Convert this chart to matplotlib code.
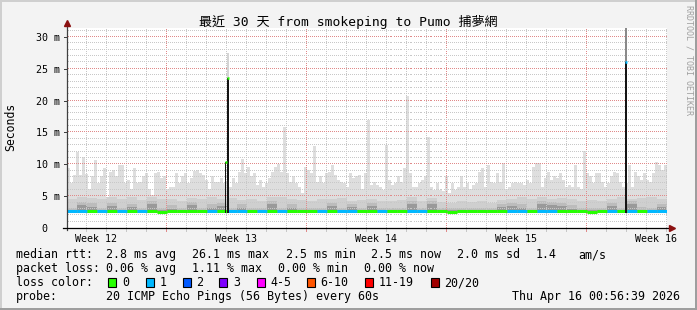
import matplotlib
matplotlib.use("Agg")
import matplotlib.pyplot as plt
from matplotlib.patches import Rectangle
from matplotlib.transforms import blended_transform_factory
import numpy as np

W, H = 697, 310
MONO = "DejaVu Sans Mono"
TITLE_FONTS = ["DejaVu Sans Mono", "Noto Sans CJK TC"]

# ---- data, milliseconds. 30 days; smoke max in 0.15 day bins, the rest in half days
smoke_max = [
    9.4, 7.0, 8.3, 12.0, 8.3, 11.2, 8.4, 6.2, 8.1, 10.7,
    7.0, 8.1, 9.4, 4.9, 8.8, 9.1, 8.1, 9.9, 9.9, 7.0,
    7.5, 6.2, 9.4, 7.0, 7.3, 8.1, 8.6, 6.2, 5.2, 8.6,
    8.8, 7.8, 8.1, 6.2, 6.5, 6.5, 8.6, 7.0, 8.1, 8.6,
    7.0, 7.8, 8.9, 9.1, 8.6, 8.3, 7.5, 6.2, 8.1, 7.3,
    7.3, 7.8, 7.0, 7.0, 6.5, 7.8, 7.0, 8.8, 10.9, 8.6,
    9.6, 8.1, 8.6, 6.8, 7.5, 6.5, 7.0, 7.8, 8.8, 9.6,
    10.0, 8.8, 15.8, 8.6, 7.3, 8.1, 7.0, 6.5, 5.5, 9.6,
    9.1, 8.6, 12.9, 7.3, 8.1, 7.0, 8.6, 8.8, 9.9, 8.3,
    7.5, 7.3, 7.0, 6.5, 8.6, 7.8, 8.1, 8.3, 6.2, 8.6,
    17.0, 6.8, 7.3, 6.8, 6.5, 6.0, 13.0, 7.5, 6.8, 7.0,
    8.1, 7.3, 9.4, 20.7, 8.6, 6.5, 6.5, 7.0, 7.5, 8.1,
    14.3, 6.5, 6.0, 7.0, 6.0, 5.8, 8.1, 5.5, 7.0, 6.0,
    6.5, 8.1, 6.5, 7.0, 6.2, 6.8, 7.0, 8.8, 9.4, 6.5,
    9.9, 7.3, 7.0, 8.6, 7.3, 10.2, 6.2, 6.5, 7.0, 7.3,
    7.0, 7.0, 6.8, 7.5, 7.0, 9.5, 10.2, 10.2, 6.5, 7.8,
    8.8, 7.5, 8.1, 7.8, 8.6, 7.5, 6.5, 6.8, 6.5, 9.9,
    6.5, 6.2, 12.1, 8.6, 8.1, 7.0, 8.6, 8.6, 7.3, 6.5,
    7.0, 8.1, 8.8, 8.6, 7.3, 6.5, 7.0, 9.9, 6.5, 8.8,
    8.1, 7.5, 8.6, 7.5, 7.3, 8.6, 10.4, 9.9, 9.1, 9.9,
]
smoke_min = 2.4
smoke_mid = [
    4.6, 4.9, 4.7, 4.5, 4.8, 4.6, 4.9, 4.4, 4.8, 4.5, 4.6, 4.3, 4.7, 4.5, 4.8,
    4.5, 4.7, 4.4, 4.6, 4.3, 4.8, 4.9, 4.5, 4.4, 4.2, 4.5, 4.6, 4.7, 4.3, 4.4,
    4.6, 4.3, 4.2, 4.4, 4.8, 4.2, 4.7, 4.1, 4.0, 4.2, 4.1, 4.3, 4.0, 4.4, 4.6,
    4.8, 4.5, 4.9, 4.6, 4.7, 4.5, 4.3, 4.4, 4.2, 4.6, 4.8, 4.5, 4.7, 4.9, 4.6,
]
smoke_dark = [
    3.2, 4.1, 3.9, 3.1, 4.0, 3.2, 3.8, 3.2, 4.2, 3.1, 3.6, 3.1, 4.1, 3.2, 3.8,
    4.0, 3.2, 3.7, 3.1, 3.1, 4.3, 3.2, 3.7, 3.1, 3.1, 3.2, 4.0, 3.1, 3.8, 3.2,
    3.9, 3.2, 3.1, 3.2, 4.2, 3.2, 4.3, 3.1, 3.1, 3.2, 3.1, 3.2, 3.2, 3.8, 4.0,
    3.7, 3.2, 4.2, 4.1, 3.9, 3.6, 3.1, 3.2, 3.2, 4.0, 3.2, 4.2, 3.3, 3.2, 3.8,
]
smoke_core = [
    2.8, 3.6, 3.3, 2.8, 3.5, 2.8, 3.3, 2.8, 3.7, 2.8, 3.0, 2.8, 3.6, 2.8, 3.2,
    3.5, 2.8, 3.1, 2.8, 2.8, 3.8, 2.8, 3.2, 2.8, 2.8, 2.8, 3.5, 2.8, 3.3, 2.8,
    3.4, 2.8, 2.8, 2.8, 3.7, 2.8, 3.8, 2.8, 2.8, 2.8, 2.8, 2.8, 2.8, 3.3, 3.5,
    3.1, 2.8, 3.7, 3.6, 3.4, 3.0, 2.8, 2.8, 2.8, 3.5, 2.8, 3.7, 2.8, 2.8, 3.3,
]
median = [
    2.65, 2.65, 2.6, 2.65, 2.6, 2.65, 2.6, 2.65, 2.6, 2.55, 2.6, 2.6, 2.6, 2.6, 2.65,
    2.6, 2.65, 2.65, 2.6, 2.65, 2.6, 2.65, 2.6, 2.6, 2.6, 2.65, 2.6, 2.65, 2.65, 2.6,
    2.6, 2.65, 2.6, 2.6, 2.65, 2.65, 2.6, 2.6, 2.55, 2.6, 2.6, 2.6, 2.6, 2.6, 2.65,
    2.65, 2.6, 2.65, 2.65, 2.6, 2.6, 2.6, 2.55, 2.6, 2.65, 2.6, 2.65, 2.6, 2.65, 2.65,
]
loss = [
    1, 1, 0, 1, 0, 1, 0, 1, 0, 0, 0, 0, 0, 0, 1,
    0, 1, 1, 0, 1, 0, 1, 0, 0, 0, 1, 0, 1, 1, 0,
    0, 1, 0, 0, 1, 1, 0, 0, 0, 0, 0, 0, 0, 0, 1,
    1, 0, 1, 1, 0, 0, 0, 0, 0, 1, 0, 1, 0, 1, 1,
]
spike_day = [7.94, 8.045, 27.95]
spike_median = [10.4, 23.5, 26.1]
spike_top = [10.4, 27.4, 33.0]
spike_loss = [0, 0, 1]

loss_labels = ["0", "1", "2", "3", "4-5", "6-10", "11-19", "20/20"]
loss_colors = ["#26ff00", "#00b8ff", "#0059ff", "#7e00ff",
               "#ff00ff", "#ff5500", "#ff0000", "#a10000"]

y_ticks = [0, 5, 10, 15, 20, 25, 30]
y_labels = ["0  ", "5 m", "10 m", "15 m", "20 m", "25 m", "30 m"]
week_days = [1.44, 8.44, 15.44, 22.44, 29.44]
week_labels = ["Week 12", "Week 13", "Week 14", "Week 15", "Week 16"]

title = "最近 30 天 from smokeping to Pumo 捕夢網"
rtt_stats = [(15.5, "median rtt:"), (106, "2.8 ms avg"), (192, "26.1 ms max"),
             (285.5, "2.5 ms min"), (371, "2.5 ms now"), (457, "2.0 ms sd"),
             (535.5, "1.4"), (578.5, "am/s")]
loss_stats = [(15.5, "packet loss:"), (106, "0.06 % avg"), (192, "1.11 % max"),
              (278, "0.00 % min"), (364.5, "0.00 % now")]
probe_text = "20 ICMP Echo Pings (56 Bytes) every 60s"
stamp = "Thu Apr 16 00:56:39 2026"


def fx(x):
    return x / W


def fy(y):
    return 1 - y / H


fig = plt.figure(figsize=(W / 100, H / 100), dpi=100)
fig.patch.set_facecolor("#f3f3f3")

# shaded frame
fig.add_artist(Rectangle((0, 1 - 2 / H), 1, 2 / H, transform=fig.transFigure, color="#cfcfcf", lw=0))
fig.add_artist(Rectangle((0, 0), 2 / W, 1, transform=fig.transFigure, color="#cfcfcf", lw=0))
fig.add_artist(Rectangle((0, 0), 1, 2 / H, transform=fig.transFigure, color="#9e9e9e", lw=0))
fig.add_artist(Rectangle((1 - 2 / W, 0), 2 / W, 1, transform=fig.transFigure, color="#9e9e9e", lw=0))

ax = fig.add_axes([fx(67), fy(228), 600 / W, 200 / H])
ax.set_facecolor("white")
ax.set_xlim(0, 30)
ax.set_ylim(0, 31.4)
for s in ax.spines.values():
    s.set_visible(False)
ax.set_xticks([])
ax.set_yticks([])

# smoke
edges = np.arange(len(smoke_max) + 1) * 0.15
half = np.arange(len(smoke_mid) + 1) * 0.5
ax.stairs(smoke_max, edges, baseline=smoke_min, fill=True, color="#dedede", lw=0, zorder=1)
ax.stairs(smoke_mid, half, baseline=smoke_min, fill=True, color="#cfcfcf", lw=0, zorder=1.1)
ax.stairs(smoke_dark, half, baseline=smoke_min, fill=True, color="#bcbcbc", lw=0, zorder=1.2)
ax.stairs(smoke_core, half, baseline=smoke_min, fill=True, color="#9a9a9a", lw=0, zorder=1.3)

# dotted grid: single pixels every second pixel, drawn over the smoke
px_x = 30 / 600
px_y = 31.4 / 200
GRID = "#c8c8c8"
MGRID = "#e08a8a"
ys = np.arange(0.5 * px_y, 31.4, 2 * px_y)
xs = np.arange(0.5 * px_x, 30, 2 * px_x)
for d in np.arange(0.95, 30, 1.0):
    major = abs(((d - 4.95) / 7) - round((d - 4.95) / 7)) < 1e-6
    c = MGRID if major else GRID
    ax.plot(np.full_like(ys, d), ys, ",", color=c, zorder=2)
    ax.plot([d, d], [-0.4, 0], color=c, lw=0.72, clip_on=False, antialiased=False)
for v in range(1, 32):
    c = MGRID if v % 5 == 0 else GRID
    ax.plot(xs, np.full_like(xs, v), ",", color=c, zorder=2)

# median line coloured by loss
ax.hlines(median, half[:-1], half[1:], colors=[loss_colors[l] for l in loss], lw=2.2, zorder=4)

# spikes
sd = np.array(spike_day)
sm = np.array(spike_median)
st = np.array(spike_top)
widths = [0.05, 0.08, 0.1]
ax.bar(sd, st - sm, bottom=sm, width=widths, color=["#d4d4d4", "#d4d4d4", "#8a8a8a"], lw=0, zorder=3)
ax.bar(sd, sm - smoke_min, bottom=smoke_min, width=widths, color="#151515", lw=0, zorder=5)
ax.hlines(sm, sd - np.array(widths) / 2 - 0.02, sd + np.array(widths) / 2 + 0.02,
          colors=[loss_colors[l] for l in spike_loss], lw=1.8, zorder=6)

# axes with arrows
ax.plot([0, 0], [-0.35, 31.9], color="#404040", lw=0.9, clip_on=False, zorder=7)
ax.plot([-0.2, 30.1], [0, 0], color="#000000", lw=0.9, clip_on=False, zorder=7)
ax.plot([0], [32.2], marker="^", ms=4.5, color="#8b1010", clip_on=False, zorder=8)
ax.plot([30.25], [0], marker=">", ms=4.5, color="#8b1010", clip_on=False, zorder=8)

# y labels and ticks
for v, lab in zip(y_ticks, y_labels):
    ax.plot([-0.13, 0], [v, v], color="#404040", lw=0.72, clip_on=False)
    ax.text(-0.35, v, lab, family=MONO, size=7.2, ha="right", va="center_baseline")

# week labels
tr = blended_transform_factory(ax.transData, fig.transFigure)
for d, lab in zip(week_days, week_labels):
    ax.text(d, fy(241.5), lab, transform=tr, family=MONO, size=7.2, ha="center", va="baseline")

# titles
fig.text(0.5, fy(26), title, family=TITLE_FONTS, size=9.4, ha="center", va="baseline")
fig.text(fx(11), fy(127), "Seconds", family=MONO, size=8.3, rotation=90, ha="center", va="center")
fig.text(fx(689), fy(5), "RRDTOOL / TOBI OETIKER", family=MONO, size=6, rotation=270,
         ha="center", va="top", color="#a0a0a0")

# legend
for x, s in rtt_stats:
    fig.text(fx(x), fy(258.3), s, family=MONO, size=8.37, va="baseline")
for x, s in loss_stats:
    fig.text(fx(x), fy(272.3), s, family=MONO, size=8.37, va="baseline")
fig.text(fx(15.5), fy(286.3), "loss color:", family=MONO, size=8.37, va="baseline")
box_x = [108.3, 145.7, 182.7, 219.3, 256.7, 307, 365, 430.7]
for bx, lab, c in zip(box_x, loss_labels, loss_colors):
    fig.add_artist(Rectangle((fx(bx), fy(286.7)), 8 / W, 8.3 / H, transform=fig.transFigure,
                             facecolor=c, edgecolor="black", lw=0.8))
    fig.text(fx(bx + 13.7), fy(286.3), lab, family=MONO, size=8.37, va="baseline")
fig.text(fx(15.5), fy(300.3), "probe:", family=MONO, size=8.37, va="baseline")
fig.text(fx(106), fy(300.3), probe_text, family=MONO, size=8.37, va="baseline")
fig.text(fx(680.5), fy(300.3), stamp, family=MONO, size=8.37, ha="right", va="baseline")

fig.savefig("out.png", dpi=100, facecolor=fig.get_facecolor())
